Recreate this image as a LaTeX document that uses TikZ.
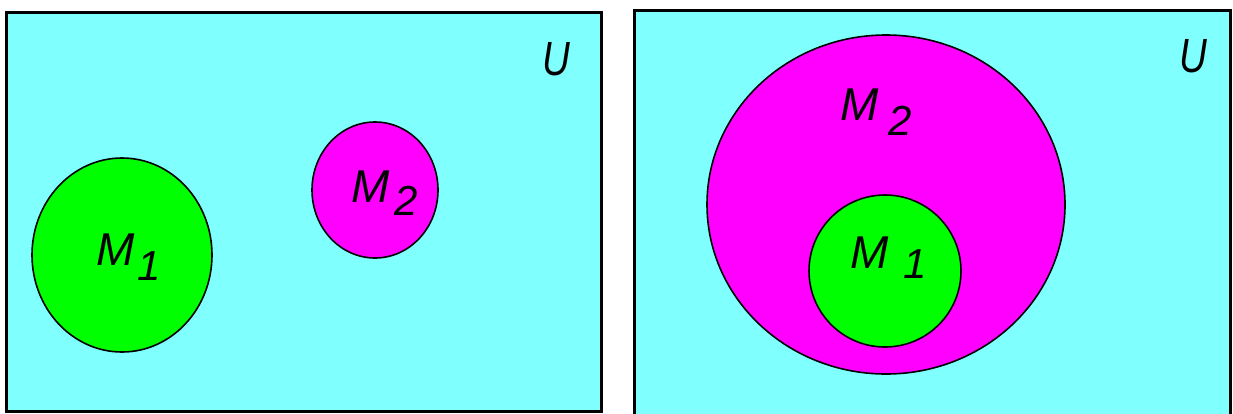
\documentclass[tikz,border=0pt]{standalone}
\usepackage{fontspec}
\setmainfont{Liberation Sans}
\definecolor{ucyan}{HTML}{80FFFF}
\definecolor{ugreen}{HTML}{00FF00}
\definecolor{umag}{HTML}{FF00FF}
\begin{document}
\begin{tikzpicture}[x=1pt,y=-1pt,
  universe/.style={draw=black,line width=3pt,fill=ucyan},
  setA/.style={draw=black,line width=1.6pt,fill=ugreen},
  setB/.style={draw=black,line width=1.6pt,fill=umag},
  lbl/.style={font=\fontsize{46}{46}\selectfont\itshape,inner sep=0pt,anchor=base west},
  sub/.style={font=\fontsize{42}{42}\selectfont\itshape,inner sep=0pt,anchor=base west},
  ulbl/.style={font=\fontsize{48}{48}\selectfont\itshape,inner sep=0pt,anchor=base west,xscale=0.8}]
\useasboundingbox (0,0) rectangle (1233,413);
\begin{scope}
\clip (0,0) rectangle (1233,413);
% left panel
\draw[universe] (6,12.5) rectangle (601.5,411);
\draw[setA] (122,255) ellipse [x radius=90,y radius=97];
\draw[setB] (375,190) ellipse [x radius=63,y radius=68];
% right panel
\draw[universe] (634,10.5) rectangle (1230,420);
\draw[setB] (886,204.5) ellipse [x radius=179,y radius=169.5];
\draw[setA] (885,271) ellipse [x radius=76,y radius=76];
\end{scope}
\node[ulbl] (u1) at (542,75) {U};
\node[ulbl] (u2) at (1179,72) {U};
\node[lbl] (m1a) at (96,265) {M};
\node[sub] (s1a) at (137,280) {1};
\node[lbl] (m2a) at (351,202) {M};
\node[sub] (s2a) at (394,215) {2};
\node[lbl] (m2b) at (840,120) {M};
\node[sub] (s2b) at (888,135) {2};
\node[lbl] (m1b) at (850,268) {M};
\node[sub] (s1b) at (903,278) {1};
\end{tikzpicture}
\end{document}
